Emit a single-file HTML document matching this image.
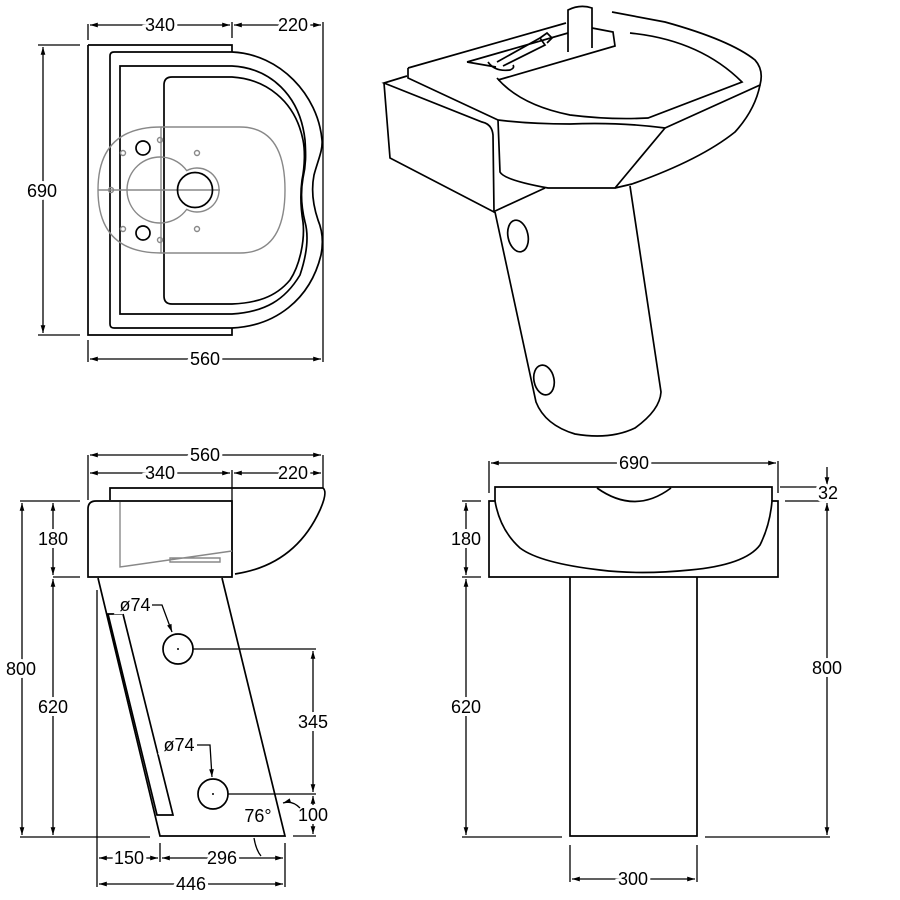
<!DOCTYPE html>
<html><head><meta charset="utf-8"><style>
html,body{margin:0;padding:0;background:#fff}
svg{display:block}
text{font-family:"Liberation Sans",sans-serif;font-size:18px;fill:#000;stroke:#fff;stroke-width:6px;paint-order:stroke;text-anchor:middle;dominant-baseline:central}
.l{fill:none;stroke:#000;stroke-width:1.7}
.d{fill:none;stroke:#000;stroke-width:1.3}
.g{fill:none;stroke:#888;stroke-width:1.4}
</style></head><body>
<svg width="900" height="900" viewBox="0 0 900 900" xmlns="http://www.w3.org/2000/svg">
<defs>
<marker id="a" viewBox="0 0 10 10" refX="10" refY="5" markerWidth="9" markerHeight="6" orient="auto-start-reverse"><path d="M0,2 L10,5 L0,8 z" fill="#000"/></marker>
</defs>

<!-- ===== TOP-LEFT PLAN VIEW ===== -->
<g>
<path class="d" d="M88,24 V40 M232,22 V38 M323,22 V362 M88,340 V362"/>
<line class="d" x1="90" y1="25" x2="230" y2="25" marker-start="url(#a)" marker-end="url(#a)"/>
<line class="d" x1="234" y1="25" x2="321" y2="25" marker-start="url(#a)" marker-end="url(#a)"/>
<text x="160" y="25">340</text><text x="293" y="25">220</text>
<line class="d" x1="90" y1="359" x2="321" y2="359" marker-start="url(#a)" marker-end="url(#a)"/>
<text x="205" y="359">560</text>
<path class="d" d="M38,45 H80 M38,335 H80"/>
<line class="d" x1="43" y1="47" x2="43" y2="333" marker-start="url(#a)" marker-end="url(#a)"/>
<text x="42" y="191">690</text>
<path class="l" d="M88,45 H232 V52 M88,45 V335 H232 V328"/>
<path class="l" d="M114,52 H232 C280,54 318,95 322,140 C323,150 318,160 314,175 C311,190 313,205 318,220 C323,232 323,245 321,255 C310,300 275,326 232,328 H114 Q110,328 110,324 V56 Q110,52 114,52 Z"/>
<path class="l" d="M120,66 H232 C270,68 300,95 305,140 C306,155 306,165 303,178 C300,195 302,210 305,222 C310,240 305,260 300,275 C285,300 265,312 232,314 H120 Z"/>
<path class="l" d="M172,77 H232 C265,79 295,100 303,140 C305,150 305,165 302,180 C300,195 301,210 303,222 C305,240 300,265 290,280 C275,298 255,303 232,304 H172 Q164,304 164,296 V85 Q164,77 172,77 Z"/>
<path class="g" d="M161,127 H240 Q285,127 285,190 Q285,253 240,253 H161 Q98,253 98,190 Q98,127 161,127 Z"/>
<path class="g" d="M161,127 V253 M98,190 H220"/>
<path class="g" d="M186.7,170.6 A33,33 0 1 0 186.7,209.4 A22,22 0 1 0 186.7,170.6 Z"/>
<circle class="l" cx="195" cy="190" r="17.5"/>
<circle class="l" cx="143" cy="148" r="7"/>
<circle class="l" cx="143" cy="233" r="7"/>
<g class="g"><circle cx="123" cy="153" r="2.5"/><circle cx="197" cy="153" r="2.5"/><circle cx="123" cy="229" r="2.5"/><circle cx="197" cy="229" r="2.5"/><circle cx="160" cy="140" r="2.5"/><circle cx="160" cy="240" r="2.5"/><circle cx="111" cy="190" r="2.5"/></g>
</g>

<!-- ===== PERSPECTIVE VIEW ===== -->
<g class="l">
<path d="M384,83 L390,158 L494,212 L493,135 Q492,124 482,122 L384,83 L407,76"/>
<path d="M408,68 V78 L498,120 M408,68 L566,23"/>
<path d="M498,120 L500,172 Q504,180 548,188 L615,188 L665,128 Q620,122 570,124 Q530,124 498,120"/>
<path d="M665,128 L760,85 Q764,70 755,60 Q730,40 665,22 L612,12"/>
<path d="M760,85 Q755,110 735,132 Q700,160 632,184 L615,188"/>
<path d="M493,212 L545,188"/>
<path d="M495,212 L536,402 Q545,425 575,434 Q610,440 635,428 Q660,410 661,392 L630,186"/>
<ellipse cx="518" cy="236" rx="10" ry="16" transform="rotate(-12 518 236)"/>
<ellipse cx="544" cy="380" rx="10" ry="15" transform="rotate(-12 544 380)"/>
<path d="M497,78 Q520,105 570,115 Q610,120 648,118 L742,82 Q700,40 630,33"/>
<path d="M467,62 L568,33 M467,62 L496,67 M498,80 L615,46 L613,32 L592,28"/>
<path d="M568,52 V10 Q580,4 592,8 V48"/>
<path d="M497,62 L540,38 L545,45 L503,66 M540,38 L547,33 L552,38 L547,43"/>
<path d="M488,62 Q495,72 510,70 Q515,68 513,65"/>
</g>

<!-- ===== BOTTOM-LEFT SIDE VIEW ===== -->
<g>
<path class="d" d="M88,455 V500 M323,455 V488 M232,470 V576"/>
<line class="d" x1="90" y1="455" x2="321" y2="455" marker-start="url(#a)" marker-end="url(#a)"/>
<text x="205" y="455">560</text>
<line class="d" x1="90" y1="473" x2="230" y2="473" marker-start="url(#a)" marker-end="url(#a)"/>
<line class="d" x1="234" y1="473" x2="321" y2="473" marker-start="url(#a)" marker-end="url(#a)"/>
<text x="160" y="473">340</text><text x="293" y="473">220</text>
<path class="l" d="M110,500 V488 H323 Q328,492 320,510 Q295,565 235,574"/>
<path class="l" d="M96,501 H232 V577 H88 V509 Q88,501 96,501 Z"/>
<path class="g" d="M120,502 V567 L232,551 M170,558 H220 V562 H170 Z"/>
<path class="d" d="M20,501 H80 M53,577 H80 M20,837 H150"/>
<line class="d" x1="22" y1="503" x2="22" y2="835" marker-start="url(#a)" marker-end="url(#a)"/>
<line class="d" x1="53" y1="503" x2="53" y2="575" marker-start="url(#a)" marker-end="url(#a)"/>
<line class="d" x1="53" y1="579" x2="53" y2="835" marker-start="url(#a)" marker-end="url(#a)"/>
<text x="21" y="669">800</text><text x="53" y="539">180</text><text x="53" y="707">620</text>
<path class="l" d="M98,578 L160,836 H285 L222,578"/>
<path class="d" d="M97,590 V887 M160,843 V862 M285,843 V887"/>
<path class="l" d="M108,614 H123 L173,815 H157 Z"/>
<circle class="l" cx="178" cy="649" r="15"/><circle cx="178" cy="649" r="1" fill="#000"/>
<circle class="l" cx="213" cy="794" r="15"/><circle cx="213" cy="794" r="1" fill="#000"/>
<text x="135" y="605">ø74</text>
<path class="d" d="M152,605 H162 L172,632" marker-end="url(#a)"/>
<text x="179" y="745">ø74</text>
<path class="d" d="M197,745 H210 L212,777" marker-end="url(#a)"/>
<path class="d" d="M193,649 H316 M228,794 H316 M293,836 H316"/>
<line class="d" x1="313" y1="651" x2="313" y2="792" marker-start="url(#a)" marker-end="url(#a)"/>
<line class="d" x1="313" y1="796" x2="313" y2="834" marker-start="url(#a)" marker-end="url(#a)"/>
<text x="313" y="722">345</text><text x="313" y="815">100</text>
<text x="258" y="816">76°</text>
<path class="d" d="M300,808 Q292,800 283,803" marker-end="url(#a)"/>
<path class="d" d="M254,838 Q256,850 261,856"/>
<line class="d" x1="99" y1="858" x2="158" y2="858" marker-start="url(#a)" marker-end="url(#a)"/>
<line class="d" x1="162" y1="858" x2="283" y2="858" marker-start="url(#a)" marker-end="url(#a)"/>
<text x="129" y="858">150</text><text x="222" y="858">296</text>
<line class="d" x1="99" y1="884" x2="283" y2="884" marker-start="url(#a)" marker-end="url(#a)"/>
<text x="191" y="884">446</text>
</g>

<!-- ===== BOTTOM-RIGHT FRONT VIEW ===== -->
<g>
<path class="d" d="M489,461 V493 M778,461 V493"/>
<line class="d" x1="491" y1="463" x2="776" y2="463" marker-start="url(#a)" marker-end="url(#a)"/>
<text x="634" y="463">690</text>
<path class="l" d="M495,501 V487 H772 V501"/>
<path class="l" d="M597,488 Q635,515 671,488"/>
<path class="l" d="M489,501 H495 Q500,530 520,548 Q540,563 600,570 Q640,575 690,570 Q745,565 760,545 Q770,525 772,501 H778 V577 H489 Z"/>
<path class="l" d="M570,577 V836 H697 V577"/>
<path class="d" d="M462,501 H481 M462,577 H481 M462,837 H562 M705,837 H830 M780,487 H830 M785,501 H830 M570,845 V882 M697,845 V882"/>
<line class="d" x1="466" y1="503" x2="466" y2="575" marker-start="url(#a)" marker-end="url(#a)"/>
<line class="d" x1="466" y1="579" x2="466" y2="835" marker-start="url(#a)" marker-end="url(#a)"/>
<text x="466" y="539">180</text><text x="466" y="707">620</text>
<line class="d" x1="827" y1="503" x2="827" y2="835" marker-start="url(#a)" marker-end="url(#a)"/>
<line class="d" x1="827" y1="467" x2="827" y2="485" marker-end="url(#a)"/>
<text x="827" y="668">800</text><text x="828" y="493">32</text>
<line class="d" x1="572" y1="879" x2="695" y2="879" marker-start="url(#a)" marker-end="url(#a)"/>
<text x="633" y="879">300</text>
</g>
</svg>
</body></html>
